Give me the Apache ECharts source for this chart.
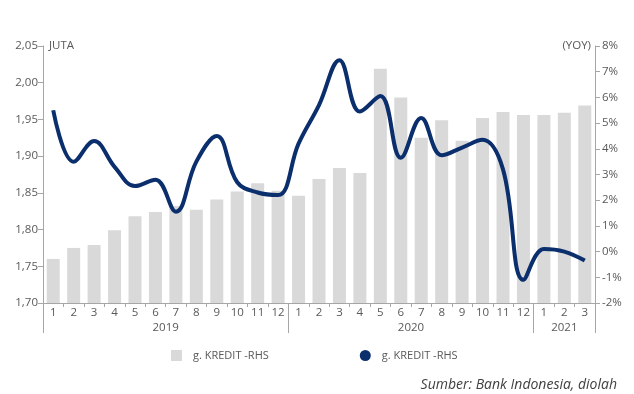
<!DOCTYPE html>
<html>
<head>
<meta charset="utf-8">
<script src="https://cdn.jsdelivr.net/npm/echarts@6/dist/echarts.min.js"></script>
<style>
html,body{margin:0;padding:0;background:#fff;}
#c{width:634px;height:394px;}
</style>
</head>
<body>
<div id="c"></div>
<script>
const months = ['1','2','3','4','5','6','7','8','9','10','11','12','1','2','3','4','5','6','7','8','9','10','11','12','1','2','3'];
const years = ['2019','2020','2021'];
const monthsPerYear = [12, 12, 3];
const kreditJuta = [1.760,1.775,1.779,1.799,1.818,1.824,1.832,1.827,1.841,1.852,1.863,1.853,
                    1.846,1.869,1.884,1.877,2.019,1.980,1.925,1.949,1.921,1.952,1.960,1.956,
                    1.956,1.959,1.969];
const kreditYoy = [5.5,3.5,4.3,3.3,2.55,2.8,1.55,3.5,4.5,2.7,2.3,2.2,
                   4.2,5.7,7.45,5.45,6.05,3.65,5.2,3.75,4.05,4.35,3.2,-1.1,
                   0.1,0.0,-0.35];
const leftTicks = {min:1.70, max:2.05, interval:0.05};
const rightTicks = {min:-2, max:8, interval:1};
const barName = 'g. KREDIT -RHS';
const lineName = 'g. KREDIT -RHS ';

const yearBounds = [0];
const yearCenters = [];
monthsPerYear.forEach((n,i)=>{ const s = yearBounds[i]; yearBounds.push(s+n); yearCenters.push(s+n/2); });

const txt = '#595959';
const axisCol = '#a6a6a6';
const font = 'Open Sans';
const fs = 11.5;

const chart = echarts.init(document.getElementById('c'));
chart.setOption({
  animation:false,
  textStyle:{fontFamily:font},
  grid:{left:43,right:39,top:46,bottom:91,containLabel:false},
  title:{text:'Sumber: Bank Indonesia, diolah', right:17, top:378, padding:0,
    textStyle:{fontFamily:font,fontSize:14,fontStyle:'italic',fontWeight:'normal',color:'#404040'}},
  legend:{left:171,top:350,padding:0,itemWidth:11,itemHeight:11,itemGap:91,
    textStyle:{fontFamily:font,fontSize:11,color:txt,padding:[0,0,0,6]},
    data:[{name:barName,icon:'rect'},{name:lineName,icon:'circle'}]},
  xAxis:[
    {type:'category',data:months,boundaryGap:true,position:'bottom',
      axisLine:{onZero:false,lineStyle:{color:axisCol}},
      axisTick:{show:true,length:4,lineStyle:{color:axisCol}},
      axisLabel:{color:txt,fontSize:fs,margin:4,fontFamily:font}},
    {type:'value',min:0,max:yearBounds[yearBounds.length-1],position:'bottom',
      splitLine:{show:false},
      axisLine:{show:false,onZero:false},
      axisTick:{show:true,length:30,customValues:yearBounds,lineStyle:{color:axisCol}},
      axisLabel:{show:true,customValues:yearCenters,margin:19,color:txt,fontSize:fs,fontFamily:font,
        formatter:function(v){ const i = yearCenters.indexOf(v); return i>=0?years[i]:''; }}}
  ],
  yAxis:[
    {type:'value',min:leftTicks.min,max:leftTicks.max,interval:leftTicks.interval,
      name:'JUTA',nameLocation:'end',nameGap:0,
      nameTextStyle:{align:'left',verticalAlign:'middle',padding:[0,0,0,6],color:txt,fontSize:fs,fontFamily:font},
      splitLine:{show:false},
      axisLine:{show:true,lineStyle:{color:axisCol}},
      axisTick:{show:true,length:5,lineStyle:{color:axisCol}},
      axisLabel:{color:txt,fontSize:fs,margin:5,fontFamily:font,
        formatter:v=>v.toFixed(2).replace('.',',')}},
    {type:'value',min:rightTicks.min,max:rightTicks.max,interval:rightTicks.interval,position:'right',
      name:'(YOY)',nameLocation:'end',nameGap:0,
      nameTextStyle:{align:'right',verticalAlign:'middle',padding:[0,4,0,0],color:txt,fontSize:fs,fontFamily:font},
      splitLine:{show:false},
      axisLine:{show:true,lineStyle:{color:axisCol}},
      axisTick:{show:true,length:5,lineStyle:{color:axisCol}},
      axisLabel:{color:txt,fontSize:fs,margin:7,fontFamily:font,formatter:v=>v+'%'}}
  ],
  series:[
    {name:barName,type:'bar',xAxisIndex:0,yAxisIndex:0,data:kreditJuta,barWidth:13,
      itemStyle:{color:'#d9d9d9'}},
    {name:lineName,type:'line',xAxisIndex:0,yAxisIndex:1,data:kreditYoy,smooth:0.4,
      showSymbol:false,symbol:'circle',symbolSize:11,
      lineStyle:{color:'#0b2e6d',width:4},itemStyle:{color:'#0b2e6d'}}
  ]
});
</script>
</body>
</html>
